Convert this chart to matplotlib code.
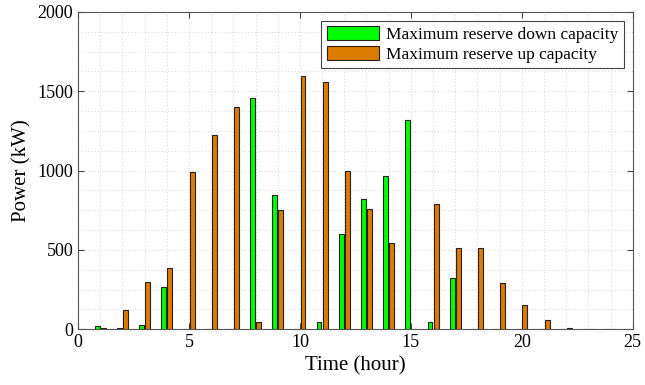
import numpy as np
import matplotlib
matplotlib.use("Agg")
import matplotlib.pyplot as plt

# Hourly reserve capacities (kW), hours 1..24
hours = np.arange(1, 25)
reserve_down = [18, 8, 27, 267, 0, 0, 0, 1455, 848, 0, 44, 600,
                822, 965, 1318, 44, 321, 0, 0, 0, 0, 0, 0, 0]
reserve_up = [8, 123, 296, 385, 990, 1224, 1400, 44, 750, 1598, 1561, 998,
              758, 544, 0, 790, 510, 510, 290, 154, 58, 8, 0, 0]

plt.rcParams['font.family'] = ['Liberation Serif', 'DejaVu Serif']

fig = plt.figure(figsize=(6.45, 3.85), dpi=100)
ax = fig.add_axes([0.121, 0.145, 0.860, 0.824])

w = 0.22
off = 0.14
ax.bar(hours - off, reserve_down, width=w, color='#00FF00', edgecolor='#222222',
       linewidth=0.8, label='Maximum reserve down capacity', zorder=3)
ax.bar(hours + off, reserve_up, width=w, color='#DD7A00', edgecolor='#222222',
       linewidth=0.8, label='Maximum reserve up capacity', zorder=3)

ax.set_xlim(0, 25)
ax.set_ylim(0, 2000)
ax.set_xticks(np.arange(0, 26, 5))
ax.set_yticks(np.arange(0, 2001, 500))
ax.set_xticks(np.arange(0, 26, 1), minor=True)
ax.set_yticks(np.arange(0, 2001, 125), minor=True)
ax.grid(True, which='both', linestyle=(0, (1, 3)), color='#c4c4c4', linewidth=0.6, zorder=0)
ax.tick_params(which='major', direction='in', top=True, right=True, length=4,
               labelsize=13, color='#444444')
ax.tick_params(which='minor', length=0)
for s in ax.spines.values():
    s.set_color('#555555')
    s.set_linewidth(0.8)

ax.set_xlabel('Time (hour)', fontsize=15)
ax.set_ylabel('Power (kW)', fontsize=15)

leg = ax.legend(loc='upper right', fontsize=12.5, fancybox=False, framealpha=1,
                edgecolor='#444444', handlelength=3.0, handleheight=0.9,
                borderpad=0.3, labelspacing=0.15, handletextpad=0.45,
                borderaxespad=0.5)
leg.get_frame().set_linewidth(0.8)

fig.savefig('out.png', dpi=100)
